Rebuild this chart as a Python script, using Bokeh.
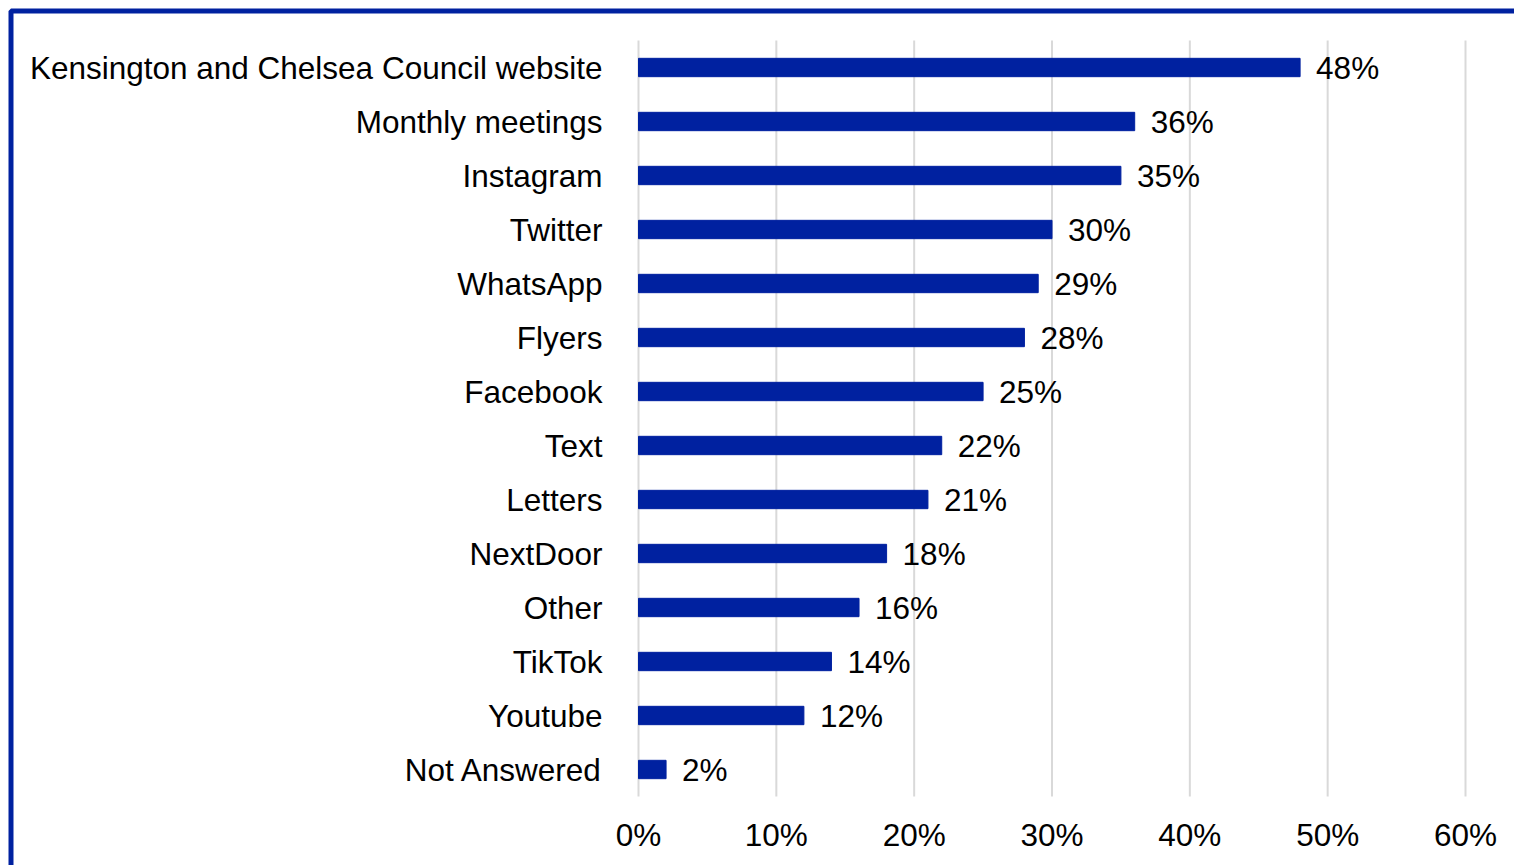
from bokeh.plotting import figure
from bokeh.models import ColumnDataSource, BoxAnnotation, Range1d
from bokeh.core.properties import value
from bokeh.embed import file_html
from bokeh.resources import INLINE

categories = ["Kensington and Chelsea Council website", "Monthly meetings", "Instagram",
              "Twitter", "WhatsApp", "Flyers", "Facebook", "Text", "Letters", "NextDoor",
              "Other", "TikTok", "Youtube", "Not Answered"]
values = [48, 36, 35, 30, 29, 28, 25, 22, 21, 18, 16, 14, 12, 2]
tick_values = [0, 10, 20, 30, 40, 50, 60]
tick_labels = ["0%", "10%", "20%", "30%", "40%", "50%", "60%"]

BLUE = "#0021A0"
FONT = "Liberation Sans"
FS = "31.5px"

n = len(categories)
ypos = [n - 1 - i for i in range(n)]   # first category at top

# scales: the plot frame covers the whole canvas
px_per_unit = 827 / 60.0      # x pixels per percent
band_px = 54.0                # y pixels per category band
x_start = -638 / px_per_unit
x_end = (1514 - 638) / px_per_unit
y_end = (n - 1) + 67 / band_px
y_start = (n - 1) - (865 - 67) / band_px

src = ColumnDataSource(dict(y=ypos, cat=categories, val=values,
                            lab=[f"{v}%" for v in values]))
tsrc = ColumnDataSource(dict(x=tick_values, lab=tick_labels))

p = figure(width=1514, height=865, output_backend="svg", toolbar_location=None,
           x_range=Range1d(x_start, x_end), y_range=Range1d(y_start, y_end),
           x_axis_location=None, y_axis_location=None, min_border=0)
p.grid.visible = False
p.outline_line_color = None

# vertical gridlines
p.segment(x0="x", x1="x", y0=-0.5, y1=n - 0.5, source=tsrc,
          line_color="#D9D9D9", line_width=2)

# bars
p.hbar(y="y", right="val", left=0, height=0.34, source=src, color=BLUE)

# value labels
p.text(x="val", y="y", text="lab", source=src, x_offset=16, text_baseline="middle",
       text_align="left", text_font=value(FONT), text_font_size=FS, text_color="black")

# category labels
p.text(x=0, y="y", text="cat", source=src, x_offset=-36, text_baseline="middle",
       text_align="right", text_font=value(FONT), text_font_size=FS, text_color="black")

# x tick labels
p.text(x="x", y=-0.5, text="lab", source=tsrc, y_offset=38, text_baseline="middle",
       text_align="center", text_font=value(FONT), text_font_size=FS, text_color="black")

# outer frame (top and left edges visible)
border = BoxAnnotation(left=10.5, right=1700, top=10.5, bottom=1000,
                       left_units="canvas", right_units="canvas",
                       top_units="canvas", bottom_units="canvas",
                       fill_color=None, fill_alpha=0, line_color=BLUE,
                       line_alpha=1, line_width=5)
p.add_layout(border)

open("out.html", "w").write(file_html(p, INLINE))
